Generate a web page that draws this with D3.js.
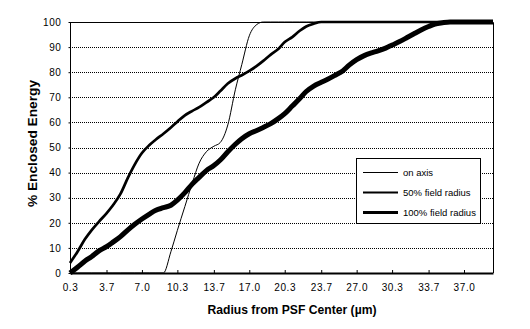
<!DOCTYPE html>
<html>
<head>
<meta charset="utf-8">
<script src="https://cdn.jsdelivr.net/npm/d3@7"></script>
<style>
  html, body { margin: 0; padding: 0; background: #fff; }
  svg { display: block; }
  text { font-family: Arial, "Liberation Sans", sans-serif; fill: #000; }
</style>
</head>
<body>
<svg id="chart" width="530" height="329"></svg>
<script>
// Radius from PSF centre (µm), sampled every 2/3 µm
const radius = [0.3,1.0,1.7,2.3,3.0,3.7,4.3,5.0,5.7,6.3,7.0,7.7,8.3,9.0,9.7,10.3,11.0,11.7,12.3,13.0,
  13.7,14.3,15.0,15.7,16.3,17.0,17.7,18.3,19.0,19.7,20.3,21.0,21.7,22.3,23.0,23.7,24.3,25.0,25.7,26.3,
  27.0,27.7,28.3,29.0,29.7,30.3,31.0,31.7,32.3,33.0,33.7,34.3,35.0,35.7,36.3,37.0,37.7,38.3,39.0,39.7];

// % enclosed energy, on axis
const onAxis = [0,0,0,0,0,0,0,0,0,0,0,0,0,0,8.5,17,26.5,36,43.5,48.3,
  50.5,52,59,73,83,94.5,99,100,100,100,100,100,100,100,100,100,100,100,100,100,
  100,100,100,100,100,100,100,100,100,100,100,100,100,100,100,100,100,100,100,100];

// % enclosed energy, 50% field radius
const field50 = [4,8.5,13.5,17,20.5,23.8,27,31.5,38,43,47.8,51,53.2,55.5,58,60.3,62.8,64.6,66,68,
  70,72.5,75.5,77.5,78.8,80.5,82.5,84.5,87,89.2,92,94,96.5,98.2,99.3,100,100,100,100,100,
  100,100,100,100,100,100,100,100,100,100,100,100,100,100,100,100,100,100,100,100];

// % enclosed energy, 100% field radius
const field100 = [0,2.3,4.8,6.5,8.8,10.5,12.3,14.5,17.2,19.3,21.5,23.5,25,26,27,29,32,35.5,38,40.8,
  42.8,45,48.3,51.3,53.5,55.5,56.8,58,59.5,61.5,63.5,66.5,69.5,72.3,74.5,76,77.2,78.8,80.5,82.8,
  85,86.6,87.6,88.5,89.6,90.8,92.2,93.8,95.2,96.8,98.2,99.2,99.7,100,100,100,100,100,100,100];

const xTicks = [0.3,3.7,7.0,10.3,13.7,17.0,20.3,23.7,27.0,30.3,33.7,37.0];
const yTicks = [0,10,20,30,40,50,60,70,80,90,100];

const seriesNames = ["on axis", "50% field radius", "100% field radius"];
const seriesValues = [onAxis, field50, field100];
const seriesWidths = [1, 2.7, 5];
const legendWidths = [1, 2, 3];

const plot = { left: 70, right: 493, top: 22, bottom: 273 };

const svg = d3.select("#chart");
const x = d3.scaleLinear().domain([0.3, 39.7]).range([plot.left, plot.right]);
const y = d3.scaleLinear().domain([0, 100]).range([plot.bottom, plot.top]);

// dotted horizontal gridlines
svg.append("g")
  .selectAll("line")
  .data(yTicks.filter(d => d > 0 && d < 100))
  .join("line")
  .attr("x1", plot.left).attr("x2", plot.right)
  .attr("y1", d => Math.round(y(d)) + 0.5).attr("y2", d => Math.round(y(d)) + 0.5)
  .attr("stroke", "#000").attr("stroke-width", 1)
  .attr("stroke-dasharray", "1,1");

// plot frame: top and right edges
svg.append("path")
  .attr("d", `M${plot.left},${plot.top + 0.5}H${plot.right + 0.5}V${plot.bottom}`)
  .attr("fill", "none").attr("stroke", "#000").attr("stroke-width", 1);

// curves
const line = d3.line()
  .x((d, i) => x(radius[i]))
  .y(d => y(d))
  .curve(d3.curveMonotoneX);

svg.append("g")
  .selectAll("path")
  .data(seriesValues)
  .join("path")
  .attr("d", d => line(d))
  .attr("fill", "none")
  .attr("stroke", "#000")
  .attr("stroke-width", (d, i) => seriesWidths[i])
  .attr("stroke-linejoin", "round");

// y axis
const yAxis = svg.append("g")
  .attr("transform", `translate(${plot.left + 0.5},0)`)
  .call(d3.axisLeft(y).tickValues(yTicks).tickSize(2).tickPadding(7).tickFormat(d3.format("d")));
yAxis.select(".domain").attr("d", `M0,${plot.top}V${plot.bottom}`).attr("stroke", "#000");
yAxis.selectAll("text").attr("font-size", 10).attr("font-family", "Arial, 'Liberation Sans', sans-serif")
  .attr("letter-spacing", 0.6);

// x axis with short inward ticks
const xAxis = svg.append("g")
  .attr("transform", `translate(0,${plot.bottom})`)
  .call(d3.axisBottom(x).tickValues(xTicks).tickSizeInner(-3).tickSizeOuter(0)
    .tickPadding(11).tickFormat(d3.format(".1f")));
xAxis.select(".domain").attr("stroke", "#000").attr("stroke-width", 2);
xAxis.selectAll(".tick line").attr("stroke", "#000");
xAxis.selectAll("text").attr("font-size", 10).attr("font-family", "Arial, 'Liberation Sans', sans-serif")
  .attr("letter-spacing", 0.6);

// axis titles
svg.append("text")
  .attr("x", 292).attr("y", 314)
  .attr("text-anchor", "middle")
  .attr("font-size", 13).attr("font-weight", "bold")
  .attr("textLength", 169).attr("lengthAdjust", "spacingAndGlyphs")
  .text("Radius from PSF Center (µm)");

svg.append("text")
  .attr("transform", "translate(37,143.5) rotate(-90)")
  .attr("text-anchor", "middle")
  .attr("font-size", 13).attr("font-weight", "bold")
  .attr("textLength", 127).attr("lengthAdjust", "spacingAndGlyphs")
  .text("% Enclosed Energy");

// legend
const legend = svg.append("g");
legend.append("rect")
  .attr("x", 356.5).attr("y", 158.5).attr("width", 124).attr("height", 65)
  .attr("fill", "#fff").attr("stroke", "#000").attr("stroke-width", 1);

const entry = legend.selectAll("g.entry")
  .data(seriesNames)
  .join("g")
  .attr("class", "entry")
  .attr("transform", (d, i) => `translate(0,${172 + i * 20})`);
entry.append("line")
  .attr("x1", 363).attr("x2", 398).attr("y1", 0.5).attr("y2", 0.5)
  .attr("stroke", "#000").attr("stroke-width", (d, i) => legendWidths[i]);
entry.append("text")
  .attr("x", 403).attr("y", 4)
  .attr("font-size", 9.5)
  .text(d => d);
</script>
</body>
</html>
